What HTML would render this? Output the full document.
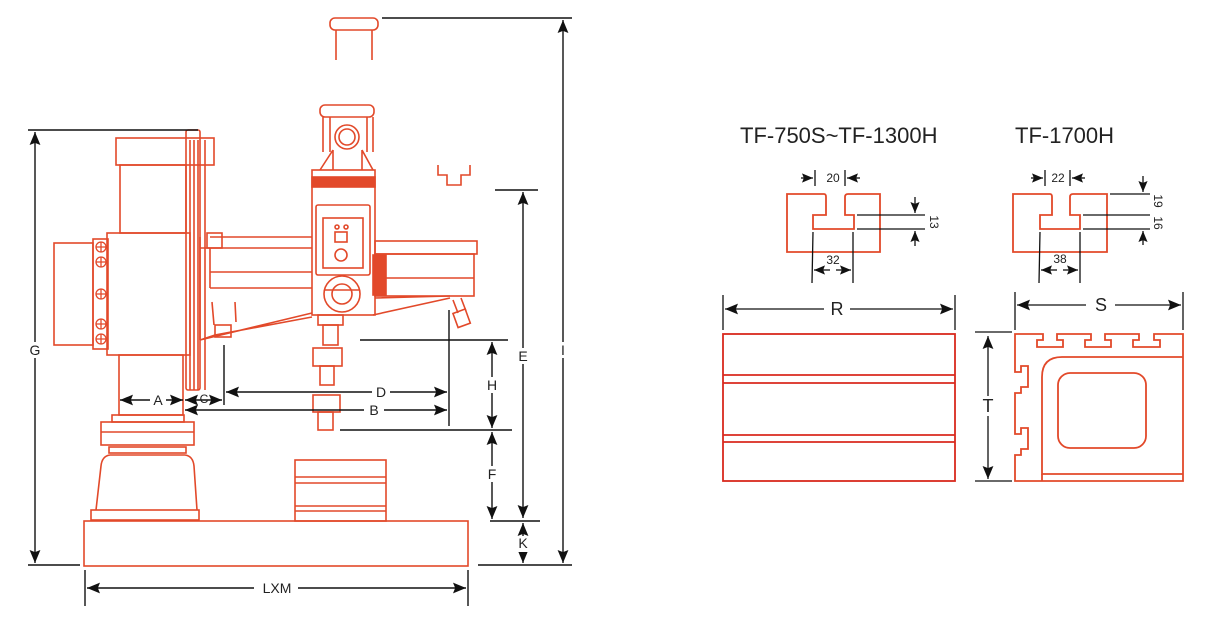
<!DOCTYPE html>
<html><head><meta charset="utf-8"><style>
html,body{margin:0;padding:0;background:#fff;width:1215px;height:640px;overflow:hidden}
svg{display:block}
text{font-family:"Liberation Sans",sans-serif;fill:#222}
</style></head><body>
<svg width="1215" height="640" viewBox="0 0 1215 640" xmlns="http://www.w3.org/2000/svg">
<defs>
<marker id="ar" viewBox="0 0 12 10" refX="12" refY="5" markerWidth="13" markerHeight="11" orient="auto-start-reverse" markerUnits="userSpaceOnUse"><path d="M0,0 L12,5 L0,10 L2,5 z" fill="#111"/></marker>
<marker id="as" viewBox="0 0 12 10" refX="12" refY="5" markerWidth="11" markerHeight="10" orient="auto-start-reverse" markerUnits="userSpaceOnUse"><path d="M0,0 L12,5 L0,10 L2,5 z" fill="#111"/></marker>
</defs>
<g fill="none" stroke="#e2492a" stroke-width="1.6">
<rect x="330" y="18" width="48" height="12" rx="5"/>
<path d="M336,30 V60 M372,30 V60"/>
<rect x="116" y="138" width="98" height="27"/>
<rect x="120" y="165" width="66" height="68"/>
<rect x="186" y="130" width="14" height="260" rx="2"/>
<path d="M190,140 V390 M194,140 V390 M198,140 V390 M205,140 V390"/>
<rect x="107" y="233" width="83" height="122"/>
<rect x="54" y="243" width="39" height="102"/>
<rect x="93" y="239" width="15" height="110"/>
<g stroke-width="1.3">
<circle cx="101" cy="247" r="5"/><circle cx="101" cy="262" r="5"/><circle cx="101" cy="294" r="5"/><circle cx="101" cy="324" r="5"/><circle cx="101" cy="339" r="5"/>
<path d="M96,247h10M101,242v10M96,262h10M101,257v10M96,294h10M101,289v10M96,324h10M101,319v10M96,339h10M101,334v10"/>
</g>
<rect x="119" y="355" width="64" height="60"/>
<rect x="112" y="415" width="72" height="7"/>
<rect x="101" y="422" width="93" height="23"/>
<path d="M101,432 H194"/>
<rect x="109" y="447" width="77" height="6"/>
<path d="M110,455 Q102,456 101,466 L96,510 M185,455 Q193,456 194,466 L197,510 M110,455 H185"/>
<rect x="91" y="510" width="108" height="10"/>
<rect x="84" y="521" width="384" height="45"/>
<rect x="295" y="460" width="91" height="61"/>
<path d="M295,477 H386 M295,483 H386 M295,506 H386 M295,511 H386"/>
<rect x="207" y="233" width="15" height="15"/>
<path d="M200,237 V340 M200,248 H210 M210,237 H312 M210,248 H312 M210,272 H312 M210,288 H312 M210,248 V288"/>
<path d="M212,302 L214,325 M235,302 L236,322"/>
<rect x="215" y="325" width="16" height="12"/>
<path d="M200,340 L215,335 L312,317 M200,340 L312,313"/>
<rect x="375" y="241" width="102" height="13"/>
<rect x="375" y="254" width="99" height="42"/>
<path d="M375,278 H474 M375,298 L450,296"/>
<path d="M373,315 L450,298"/>
<rect x="373" y="255" width="13" height="40" fill="#e2492a"/>
<path d="M453,300 L458,313 M461,298 L466,311"/>
<rect x="455" y="311" width="13" height="15" transform="rotate(-20 461 318)"/>
<rect x="320" y="105" width="54" height="12" rx="5"/>
<path d="M323,117 V152 M330,117 V152 M367,117 V152 M373,117 V152"/>
<circle cx="347" cy="137" r="12"/><circle cx="347" cy="137" r="8"/>
<path d="M333,150 L320,170 M362,150 L373,170 M333,150 V170 M362,150 V170"/>
<rect x="312" y="170" width="63" height="145"/>
<rect x="312" y="177" width="63" height="10" fill="#e2492a"/>
<rect x="316" y="205" width="54" height="70" rx="2"/>
<rect x="323" y="218" width="40" height="50"/>
<rect x="335" y="232" width="12" height="10"/>
<circle cx="337" cy="227" r="2"/><circle cx="346" cy="227" r="2"/>
<circle cx="341" cy="255" r="6"/>
<circle cx="342" cy="294" r="18"/><circle cx="342" cy="294" r="10"/>
<path d="M324,290 H360"/>
<rect x="318" y="315" width="25" height="10"/>
<rect x="323" y="325" width="15" height="20"/>
<rect x="313" y="348" width="29" height="18"/>
<rect x="320" y="366" width="14" height="19"/>
<rect x="313" y="395" width="27" height="17"/>
<rect x="318" y="412" width="15" height="18"/>
<path d="M438,165 V175 H447 V185 H461 V175 H470 V165"/>
</g>
<g stroke="#111" stroke-width="1.4" fill="none">
<path d="M382,18 H572 M28,130 H198 M28,565 H80 M495,190 H538 M360,340 H508 M340,430 H512 M490,521 H540 M478,565 H572"/>
<path d="M563,20 V563" marker-start="url(#ar)" marker-end="url(#ar)"/>
<path d="M35,132 V563" marker-start="url(#ar)" marker-end="url(#ar)"/>
<path d="M523,192 V518" marker-start="url(#ar)" marker-end="url(#ar)"/>
<path d="M492,342 V428" marker-start="url(#ar)" marker-end="url(#ar)"/>
<path d="M492,432 V519" marker-start="url(#ar)" marker-end="url(#ar)"/>
<path d="M523,523 V563" marker-start="url(#ar)" marker-end="url(#ar)"/>
<path d="M224,345 V405 M449,310 V426 M85,570 V606 M468,570 V606"/>
<path d="M226,392 H447" marker-start="url(#ar)" marker-end="url(#ar)"/>
<path d="M185,410 H447" marker-start="url(#ar)" marker-end="url(#ar)"/>
<path d="M120,400 H183" marker-start="url(#ar)" marker-end="url(#ar)"/>
<path d="M185,400 H222" marker-start="url(#ar)" marker-end="url(#ar)"/>
<path d="M87,588 H466" marker-start="url(#ar)" marker-end="url(#ar)"/>
</g>
<g font-size="14" text-anchor="middle">
<rect x="27" y="342" width="16" height="16" fill="#fff"/><text x="35" y="355">G</text>
<rect x="556" y="342" width="14" height="16" fill="#fff"/><text x="563" y="355">I</text>
<rect x="515" y="348" width="16" height="16" fill="#fff"/><text x="523" y="361">E</text>
<rect x="484" y="377" width="16" height="16" fill="#fff"/><text x="492" y="390">H</text>
<rect x="484" y="466" width="16" height="16" fill="#fff"/><text x="492" y="479">F</text>
<rect x="515" y="536" width="16" height="16" fill="#fff"/><text x="523" y="548">K</text>
<rect x="372" y="384" width="18" height="16" fill="#fff"/><text x="381" y="397">D</text>
<rect x="364" y="402" width="20" height="16" fill="#fff"/><text x="374" y="415">B</text>
<rect x="150" y="392" width="16" height="16" fill="#fff"/><text x="158" y="405">A</text>
<text x="204" y="403" font-size="12">C</text>
<rect x="254" y="580" width="44" height="16" fill="#fff"/><text x="277" y="593">LXM</text>
</g>
<text x="740" y="143" font-size="22">TF-750S~TF-1300H</text>
<text x="1015" y="143" font-size="22">TF-1700H</text>
<g fill="none" stroke="#e2492a" stroke-width="1.8">
<path d="M787,194 H824 Q826,194 826,197 V215 H813 V229 H854 V215 H845 V197 Q845,194 848,194 H880 V252 H787 Z"/>
<path d="M1013,194 H1050 Q1052,194 1052,197 V215 H1040 V229 H1080 V215 H1070 V197 Q1070,194 1073,194 H1107 V252 H1013 Z"/>
<rect x="723" y="334" width="232" height="147" stroke="#d92a1e"/>
<path d="M723,375 H955 M723,383 H955 M723,435 H955 M723,442 H955" stroke="#d92a1e"/>
<path d="M1015,334 H1043 V340 H1037 V347 H1063 V340 H1057 V334 H1091 V340 H1085 V347 H1111 V340 H1105 V334 H1139 V340 H1133 V347 H1160 V340 H1154 V334 H1183 V481 H1015 V455 H1021 V449 H1028 V428 H1021 V434 H1015 V393 H1021 V387 H1028 V366 H1021 V372 H1015 Z"/>
<path d="M1183,357 H1062 Q1042,357 1042,377 V474 H1183"/>
<rect x="1058" y="373" width="88" height="75" rx="12"/>
<path d="M1042,474 V481"/>
</g>
<g stroke="#111" stroke-width="1.3" fill="none">
<path d="M815,170 V186 M845,170 V186 M1045,170 V186 M1070,170 V186"/>
<path d="M801,178 H813" marker-end="url(#as)"/><path d="M860,178 H847" marker-end="url(#as)"/>
<path d="M1031,178 H1043" marker-end="url(#as)"/><path d="M1085,178 H1072" marker-end="url(#as)"/>
<path d="M857,215 H925 M857,229 H925 M1083,215 H1150 M1083,229 H1150 M1110,194 H1150"/>
<path d="M915,197 V213" marker-end="url(#as)"/><path d="M915,246 V231" marker-end="url(#as)"/>
<path d="M1143,176 V192" marker-end="url(#as)"/><path d="M1143,245 V231" marker-end="url(#as)"/>
<path d="M813,232 L812,283 M853,232 V283 M1040,232 L1039,283 M1080,232 V283"/>
<path d="M814,270 H830" marker-start="url(#as)"/><path d="M836,270 H851" marker-end="url(#as)"/>
<path d="M1041,270 H1057" marker-start="url(#as)"/><path d="M1063,270 H1078" marker-end="url(#as)"/>
<path d="M723,295 V330 M955,295 V330 M1015,292 V330 M1183,292 V330"/>
<path d="M725,309 H824" marker-start="url(#ar)"/><path d="M850,309 H953" marker-end="url(#ar)"/>
<path d="M1017,305 H1086" marker-start="url(#ar)"/><path d="M1115,305 H1181" marker-end="url(#ar)"/>
<path d="M975,332 H1012 M975,481 H1012"/>
<path d="M988,336 V396" marker-start="url(#ar)"/><path d="M988,416 V479" marker-end="url(#ar)"/>
</g>
<g font-size="12" text-anchor="middle">
<text x="833" y="182">20</text><text x="1058" y="182">22</text>
<text x="833" y="264">32</text><text x="1060" y="263">38</text>
<text x="930" y="222" transform="rotate(90 930 222)">13</text>
<text x="1154" y="201" transform="rotate(90 1154 201)">19</text>
<text x="1154" y="223" transform="rotate(90 1154 223)">16</text>
<text x="837" y="315" font-size="18">R</text>
<text x="1101" y="311" font-size="18">S</text>
<text x="988" y="412" font-size="18">T</text>
</g>
</svg>
</body></html>
